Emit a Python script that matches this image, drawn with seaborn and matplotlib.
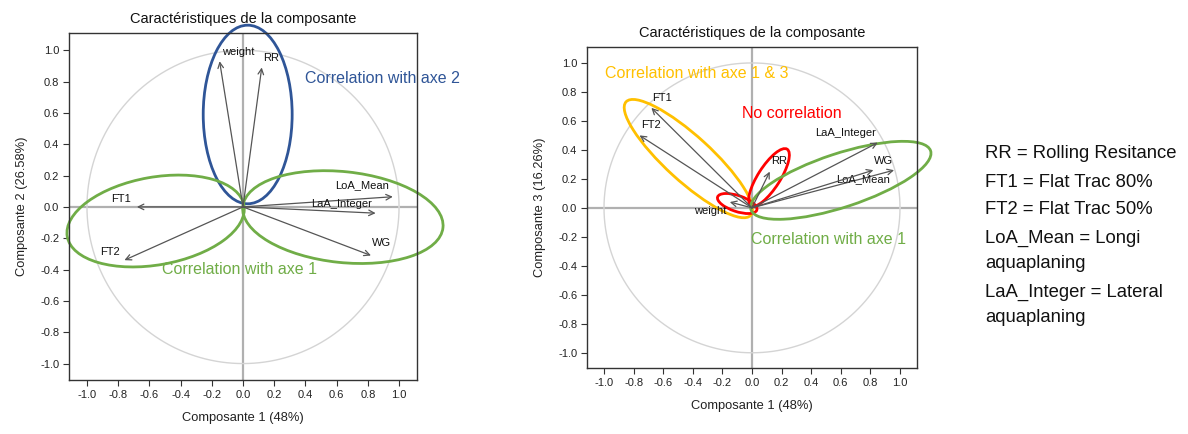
import numpy as np
import pandas as pd
import seaborn as sns
import matplotlib.pyplot as plt
from matplotlib.patches import Ellipse

# loadings
variables = ["weight", "RR", "LoA_Mean", "LaA_Integer", "FT1", "FT2", "WG"]
comp1 = [-0.15, 0.12, 0.96, 0.85, -0.68, -0.76, 0.82]
comp2 = [0.93, 0.89, 0.065, -0.04, 0.0, -0.34, -0.31]
comp3 = [0.04, 0.25, 0.26, 0.45, 0.69, 0.50, 0.26]

ticks = [-1.0, -0.8, -0.6, -0.4, -0.2, 0.0, 0.2, 0.4, 0.6, 0.8, 1.0]
tick_labels = ["-1.0", "-0.8", "-0.6", "-0.4", "-0.2", "0.0", "0.2", "0.4", "0.6", "0.8", "1.0"]

legend_lines = ["RR = Rolling Resitance", "FT1 = Flat Trac 80%", "FT2 = Flat Trac 50%",
                "LoA_Mean = Longi", "aquaplaning", "LaA_Integer = Lateral", "aquaplaning"]

df = pd.DataFrame({"var": variables, "c1": comp1, "c2": comp2, "c3": comp3})

sns.set_theme(style="ticks")
plt.rcParams['font.family'] = ['Liberation Sans', 'DejaVu Sans']

BLUE = "#2F5597"
GREEN = "#70AD47"
YELLOW = "#FFC000"
RED = "#FF0000"
ARROW = "#555555"

fig = plt.figure(figsize=(11.88, 4.34), dpi=100)
ax1 = fig.add_axes([0.0581, 0.1244, 0.2929, 0.7995])
ax2 = fig.add_axes([0.4941, 0.1521, 0.2778, 0.7396])

theta = np.linspace(0, 2 * np.pi, 361)
circle = pd.DataFrame({"t": theta, "x": np.cos(theta), "y": np.sin(theta)})

# label placement (data coords) for each plot
lab_left = {"weight": (-0.03, 0.99), "RR": (0.18, 0.95), "LoA_Mean": (0.76, 0.14),
            "LaA_Integer": (0.63, 0.02), "FT1": (-0.78, 0.05), "FT2": (-0.85, -0.29),
            "WG": (0.89, -0.23)}
lab_right = {"weight": (-0.28, -0.02), "RR": (0.18, 0.32), "LoA_Mean": (0.75, 0.20),
             "LaA_Integer": (0.63, 0.52), "FT1": (-0.61, 0.76), "FT2": (-0.68, 0.57),
             "WG": (0.89, 0.32)}


def corr_circle(ax, ycol, ylabel, labels):
    ax.axhline(0, color="#b0b0b0", lw=1.6, zorder=0)
    ax.axvline(0, color="#b0b0b0", lw=1.6, zorder=0)
    sns.lineplot(data=circle, x="x", y="y", sort=False, estimator=None, units="t",
                 color="#d4d4d4", lw=1, ax=ax, zorder=1)
    ax.plot(circle["x"], circle["y"], color="#d4d4d4", lw=1, zorder=1)
    for _, r in df.iterrows():
        ax.annotate("", xy=(r["c1"], r[ycol]), xytext=(0, 0),
                    arrowprops=dict(arrowstyle="->", color=ARROW, lw=0.9,
                                    shrinkA=0, shrinkB=0, mutation_scale=10))
        lx, ly = labels[r["var"]]
        ax.text(lx, ly, r["var"], ha="center", va="center", fontsize=8,
                color="#111111")
    ax.set_xlim(-1.115, 1.115)
    ax.set_ylim(-1.105, 1.11)
    ax.set_xticks(ticks)
    ax.set_xticklabels(tick_labels)
    ax.set_yticks(ticks)
    ax.set_yticklabels(tick_labels)
    ax.tick_params(labelsize=8, length=4, width=0.8, color="#333333", pad=3,
                   labelcolor="#222222")
    for s in ax.spines.values():
        s.set_color("#333333")
        s.set_linewidth(1)
    ax.set_xlabel("Composante 1 (48%)", fontsize=9.3, labelpad=9, color="#222222")
    ax.set_ylabel(ylabel, fontsize=9.3, labelpad=9, color="#222222")
    ax.set_title("Caractéristiques de la composante", fontsize=10.5, pad=7,
                 color="#111111")


corr_circle(ax1, "c2", "Composante 2 (26.58%)", lab_left)
corr_circle(ax2, "c3", "Composante 3 (16.26%)", lab_right)

txt = dict(fontsize=11.5, va="center")

# left plot highlights
ax1.add_patch(Ellipse((0.03, 0.59), 0.57, 1.14, angle=0, fill=False, ec=BLUE, lw=2,
                      clip_on=False))
ax1.add_patch(Ellipse((-0.56, -0.09), 1.15, 0.56, angle=10, fill=False, ec=GREEN, lw=2,
                      clip_on=False))
ax1.add_patch(Ellipse((0.64, -0.065), 1.29, 0.58, angle=-6, fill=False, ec=GREEN, lw=2,
                      clip_on=False))
ax1.text(0.40, 0.82, "Correlation with axe 2", color=BLUE, clip_on=False, **txt)
ax1.text(-0.52, -0.40, "Correlation with axe 1", color=GREEN, **txt)

# right plot highlights
ax2.add_patch(Ellipse((-0.43, 0.34), 1.15, 0.31, angle=-43, fill=False, ec=YELLOW, lw=2,
                      clip_on=False))
ax2.add_patch(Ellipse((0.115, 0.21), 0.46, 0.15, angle=58, fill=False, ec=RED, lw=2))
ax2.add_patch(Ellipse((-0.10, 0.03), 0.28, 0.11, angle=-19, fill=False, ec=RED, lw=2))
ax2.add_patch(Ellipse((0.60, 0.19), 1.28, 0.37, angle=18.6, fill=False, ec=GREEN, lw=2,
                      clip_on=False))
ax2.text(-0.99, 0.93, "Correlation with axe 1 & 3", color=YELLOW, **txt)
ax2.text(-0.07, 0.65, "No correlation", color=RED, **txt)
ax2.text(-0.01, -0.22, "Correlation with axe 1", color=GREEN, **txt)

# abbreviations
ys = [153, 182, 210, 238, 263, 292, 317]
for line, y in zip(legend_lines, ys):
    fig.text(985 / 1188, 1 - y / 434, line, fontsize=13.3, va="center",
             color="#111111")

fig.savefig("out.png", dpi=100)
